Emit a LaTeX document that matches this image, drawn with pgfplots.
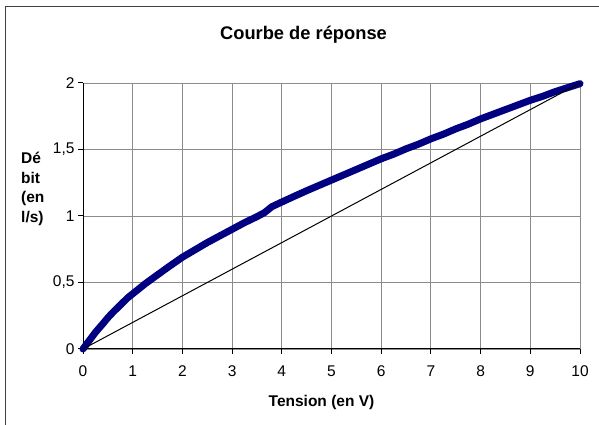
\documentclass[border=0pt]{standalone}
\usepackage{fontspec}
\setmainfont{Liberation Sans}
\usepackage{pgfplots}
\pgfplotsset{compat=1.18}
\definecolor{navyb}{RGB}{0,0,128}
\begin{document}
\begin{tikzpicture}
\useasboundingbox (0pt,0pt) rectangle (599pt,425pt);
\draw[line width=1.5pt, color=black!75] (5.5pt,0pt) -- (5.5pt,418.5pt) -- (599pt,418.5pt);
\begin{axis}[
  at={(83pt,76pt)}, anchor=south west,
  scale only axis, width=497pt, height=266pt,
  xmin=0, xmax=10, ymin=0, ymax=2,
  xtick={0,1,...,10}, ytick={0,0.5,1,1.5,2},
  axis lines*=left,
  axis line style={black, line width=1pt},
  grid=major,
  major grid style={color=black!45, line width=0.9pt},
  tick style={black, line width=1pt},
  tick align=outside,
  major tick length=5pt,
  /pgf/number format/assume math mode=true,
  /pgf/number format/use comma,
  ticklabel style={font=\fontsize{15.5}{18}\selectfont},
  xticklabel style={yshift=-8pt},
  clip=false,
]
\addplot[color=navyb, line width=7pt, line cap=round, line join=round] coordinates {
(0,0) (0.1,0.05) (0.25,0.125) (0.4,0.19) (0.5,0.235) (0.6,0.275) (0.75,0.33) (0.9,0.385) (1,0.415)
(1.25,0.49) (1.5,0.558)
(1.75,0.625) (2,0.69) (2.25,0.745) (2.5,0.80) (2.75,0.85) (3,0.90) (3.25,0.95)
(3.5,0.995) (3.65,1.025) (3.8,1.07) (4,1.105) (4.25,1.148) (4.5,1.19) (4.75,1.23)
(5,1.27) (5.25,1.31) (5.5,1.35) (5.75,1.39) (6,1.43) (6.25,1.465) (6.5,1.505)
(6.75,1.54) (7,1.58) (7.25,1.615) (7.5,1.655) (7.75,1.69) (8,1.73) (8.25,1.765)
(8.5,1.80) (8.75,1.835) (9,1.87) (9.25,1.90) (9.5,1.935) (9.75,1.965) (10,1.995)
};
\addplot[color=black, line width=1pt] coordinates {(0,0) (10,2)};
\end{axis}
\node[font=\fontsize{18.3}{21}\selectfont\bfseries] at (303.5pt,390pt) {Courbe de réponse};
\node[font=\fontsize{15.5}{18}\selectfont\bfseries] at (321.5pt,23pt) {Tension (en V)};
\node[font=\fontsize{15.5}{19.5}\selectfont\bfseries, align=left, anchor=west, inner sep=0pt] at (21pt,236pt) {Dé\\bit\\(en\\l/s)};
\end{tikzpicture}
\end{document}
